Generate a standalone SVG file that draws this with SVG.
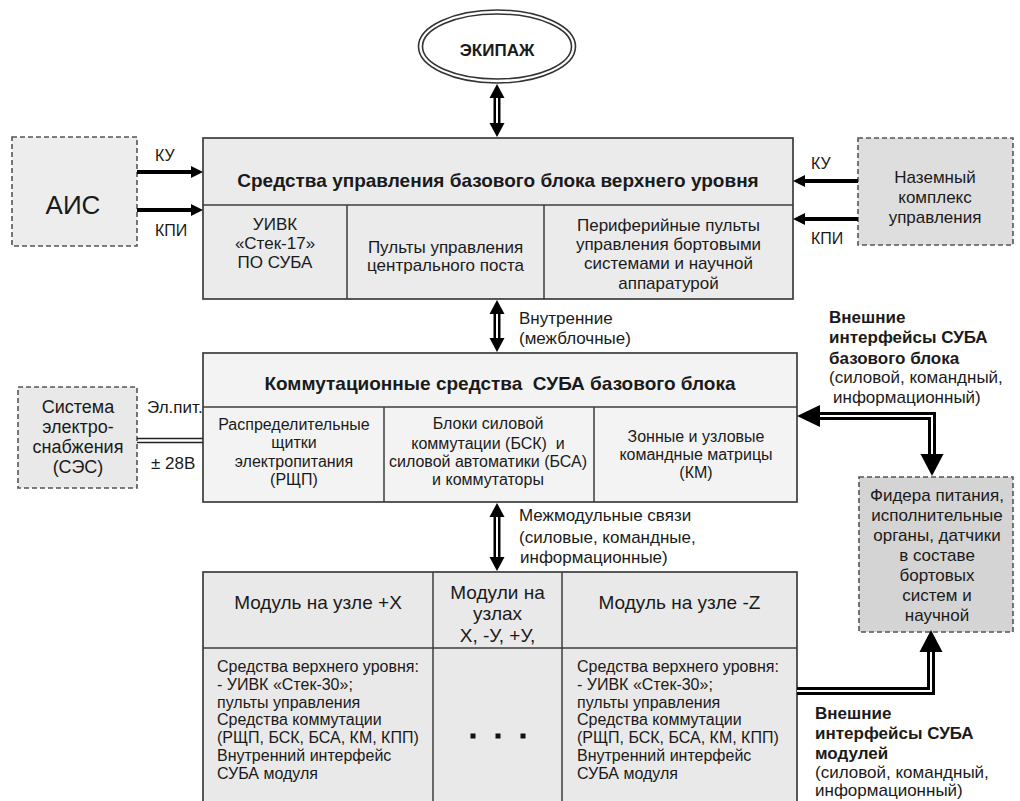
<svg xmlns="http://www.w3.org/2000/svg" width="1020" height="801" viewBox="0 0 1020 801">
  <style>
    text { font-family: "Liberation Sans", Arial, sans-serif; fill: #1a1a1a; }
    .t16 { font-size: 16px; }
    .t17 { font-size: 17px; }
    .t18 { font-size: 18px; }
    .t19 { font-size: 19px; }
    .b { font-weight: bold; }
    .mid { text-anchor: middle; }
    .box { stroke: #3c3c3c; stroke-width: 1.7; }
    .dash { stroke: #555; stroke-width: 1.6; stroke-dasharray: 5 3; }
    .sep { stroke: #3c3c3c; stroke-width: 1.5; fill: none; }
    .head { fill: #000; }
    .thin-shaft { stroke: #000; stroke-width: 7; fill: none; }
    .thick-shaft { stroke: #000; stroke-width: 8; fill: none; stroke-linejoin: miter; }
    .core { stroke: #fff; stroke-width: 2; fill: none; stroke-linejoin: miter; }
    .solid { stroke: #000; stroke-width: 4; fill: none; }
    .rail { stroke: #222; stroke-width: 1.6; fill: none; }
  </style>

  <rect width="1020" height="801" fill="#ffffff"/>

  <!-- Crew -->
  <g id="crew">
    <ellipse cx="497" cy="46.5" rx="78.5" ry="36.5" fill="#fff" stroke="#333" stroke-width="1.6"/>
    <ellipse cx="497" cy="46.5" rx="74.5" ry="32.5" fill="none" stroke="#333" stroke-width="1.6"/>
    <text class="t17 b mid" x="497" y="56">ЭКИПАЖ</text>
  </g>

  <!-- Upper level control of the base block -->
  <g id="upper-level">
    <rect class="box" x="203" y="138" width="590" height="161" fill="#ebebeb"/>
    <line class="sep" x1="203" y1="205" x2="793" y2="205"/>
    <line class="sep" x1="347" y1="205" x2="347" y2="299"/>
    <line class="sep" x1="544" y1="205" x2="544" y2="299"/>
    <text class="t19 b mid" x="498" y="187">Средства управления базового блока верхнего уровня</text>
    <text class="t17 mid" x="275" y="230">УИВК</text>
    <text class="t17 mid" x="275" y="249">«Стек-17»</text>
    <text class="t17 mid" x="275" y="268">ПО СУБА</text>
    <text class="t17 mid" x="445.5" y="253">Пульты управления</text>
    <text class="t17 mid" x="445.5" y="271">центрального поста</text>
    <text class="t17 mid" x="668.5" y="231">Периферийные пульты</text>
    <text class="t17 mid" x="668.5" y="250">управления бортовыми</text>
    <text class="t17 mid" x="668.5" y="269">системами и научной</text>
    <text class="t17 mid" x="668.5" y="289">аппаратурой</text>
  </g>

  <!-- AIS -->
  <g id="ais">
    <rect class="dash" x="12" y="137" width="125" height="109" fill="#ededed"/>
    <text class="mid" x="73" y="214" font-size="26">АИС</text>
  </g>

  <!-- Ground control complex -->
  <g id="ground">
    <rect class="dash" x="858" y="138" width="155" height="107" fill="#dedede"/>
    <text class="t17 mid" x="935" y="183">Наземный</text>
    <text class="t17 mid" x="935" y="203">комплекс</text>
    <text class="t17 mid" x="935" y="223">управления</text>
  </g>

  <!-- Switching facilities of the base block -->
  <g id="switching">
    <rect class="box" x="203" y="353" width="594" height="149" fill="#f3f3f3"/>
    <line class="sep" x1="203" y1="407" x2="797" y2="407"/>
    <line class="sep" x1="384" y1="407" x2="384" y2="502"/>
    <line class="sep" x1="594" y1="407" x2="594" y2="502"/>
    <text class="t19 b mid" x="500" y="390" xml:space="preserve">Коммутационные средства  СУБА базового блока</text>
    <text class="t16 mid" x="294" y="430">Распределительные</text>
    <text class="t16 mid" x="294" y="448">щитки</text>
    <text class="t16 mid" x="294" y="467">электропитания</text>
    <text class="t16 mid" x="294" y="485">(РЩП)</text>
    <text class="t16 mid" x="488" y="429">Блоки силовой</text>
    <text class="t16 mid" x="488" y="449" xml:space="preserve">коммутации (БСК)  и</text>
    <text class="t16 mid" x="488" y="467">силовой автоматики (БСА)</text>
    <text class="t16 mid" x="488" y="485">и коммутаторы</text>
    <text class="t16 mid" x="696" y="442">Зонные и узловые</text>
    <text class="t16 mid" x="696" y="460">командные матрицы</text>
    <text class="t16 mid" x="696" y="478">(КМ)</text>
  </g>

  <!-- Power supply system -->
  <g id="power">
    <rect class="dash" x="18" y="387" width="119" height="101" fill="#e9e9e9"/>
    <text class="t18 mid" x="78" y="413">Система</text>
    <text class="t18 mid" x="78" y="433">электро-</text>
    <text class="t18 mid" x="78" y="453">снабжения</text>
    <text class="t18 mid" x="78" y="473">(СЭС)</text>
  </g>

  <!-- Feeders, actuators, sensors -->
  <g id="feeders">
    <rect class="dash" x="859" y="477" width="154" height="155" fill="#d4d4d4"/>
    <text class="t17 mid" x="937" y="501">Фидера питания,</text>
    <text class="t17 mid" x="937" y="521">исполнительные</text>
    <text class="t17 mid" x="937" y="541">органы, датчики</text>
    <text class="t17 mid" x="937" y="561">в составе</text>
    <text class="t17 mid" x="937" y="581">бортовых</text>
    <text class="t17 mid" x="937" y="601">систем и</text>
    <text class="t17 mid" x="937" y="621">научной</text>
  </g>

  <!-- Modules -->
  <g id="modules">
    <rect class="box" x="203" y="572" width="594" height="240" fill="#e9e9e9"/>
    <line class="sep" x1="203" y1="648" x2="797" y2="648"/>
    <line class="sep" x1="433" y1="572" x2="433" y2="801"/>
    <line class="sep" x1="562" y1="572" x2="562" y2="801"/>
    <text class="t19 mid" x="318" y="609">Модуль на узле +X</text>
    <text class="t19 mid" x="497.5" y="599">Модули на</text>
    <text class="t19 mid" x="497.5" y="620">узлах</text>
    <text class="t19 mid" x="497.5" y="642">Х, -У, +У,</text>
    <text class="t19 mid" x="679.5" y="609">Модуль на узле -Z</text>
    <text class="t16" x="217" y="672">Средства верхнего уровня:</text>
    <text class="t16" x="217" y="690">- УИВК «Стек-30»;</text>
    <text class="t16" x="217" y="708">пульты управления</text>
    <text class="t16" x="217" y="725">Средства коммутации</text>
    <text class="t16" x="217" y="743">(РЩП, БСК, БСА, КМ, КПП)</text>
    <text class="t16" x="217" y="761">Внутренний интерфейс</text>
    <text class="t16" x="217" y="779">СУБА модуля</text>
    <rect x="470.5" y="733.5" width="5" height="5" fill="#111"/>
    <rect x="495.5" y="733.5" width="5" height="5" fill="#111"/>
    <rect x="520.5" y="733.5" width="5" height="5" fill="#111"/>
    <text class="t16" x="577" y="672">Средства верхнего уровня:</text>
    <text class="t16" x="577" y="690">- УИВК «Стек-30»;</text>
    <text class="t16" x="577" y="708">пульты управления</text>
    <text class="t16" x="577" y="725">Средства коммутации</text>
    <text class="t16" x="577" y="743">(РЩП, БСК, БСА, КМ, КПП)</text>
    <text class="t16" x="577" y="761">Внутренний интерфейс</text>
    <text class="t16" x="577" y="779">СУБА модуля</text>
  </g>

  <!-- Connectors -->
  <g id="connectors">
    <!-- crew <-> upper level -->
    <line class="thin-shaft" x1="497" y1="97" x2="497" y2="124"/>
    <line class="core" x1="497" y1="97" x2="497" y2="124"/>
    <polygon class="head" points="497,84 504.5,98 489.5,98"/>
    <polygon class="head" points="497,137 504.5,123 489.5,123"/>

    <!-- internal (inter-block) -->
    <line class="thin-shaft" x1="497" y1="313" x2="497" y2="339"/>
    <line class="core" x1="497" y1="313" x2="497" y2="339"/>
    <polygon class="head" points="497,300 504.5,314 489.5,314"/>
    <polygon class="head" points="497,352 504.5,338 489.5,338"/>

    <!-- inter-module links -->
    <line class="thin-shaft" x1="497" y1="516" x2="497" y2="558"/>
    <line class="core" x1="497" y1="516" x2="497" y2="558"/>
    <polygon class="head" points="497,503 504.5,517 489.5,517"/>
    <polygon class="head" points="497,571 504.5,557 489.5,557"/>

    <!-- AIS -> upper level -->
    <line class="solid" x1="137" y1="172" x2="193" y2="172"/>
    <polygon class="head" points="203,172 191,166 191,178"/>
    <line class="solid" x1="137" y1="210" x2="193" y2="210"/>
    <polygon class="head" points="203,210 191,204 191,216"/>
    <text class="t16" x="155" y="161">КУ</text>
    <text class="t16" x="155" y="236">КПИ</text>

    <!-- ground complex -> upper level -->
    <line class="solid" x1="858" y1="181" x2="803" y2="181"/>
    <polygon class="head" points="793,181 805,175 805,187"/>
    <line class="solid" x1="858" y1="219" x2="803" y2="219"/>
    <polygon class="head" points="793,219 805,213 805,225"/>
    <text class="t16" x="811" y="169">КУ</text>
    <text class="t16" x="811" y="244">КПИ</text>

    <!-- power supply double rail -->
    <line class="rail" x1="137" y1="438.5" x2="203" y2="438.5"/>
    <line class="rail" x1="137" y1="442.5" x2="203" y2="442.5"/>
    <text class="t17" x="147" y="413">Эл.пит.</text>
    <text class="t17" x="151" y="469">± 28В</text>

    <!-- external interfaces of the base block -->
    <path class="thick-shaft" d="M817,416 H932 V455"/>
    <path class="core" d="M817,416 H932 V455"/>
    <polygon class="head" points="797,416 820,405 820,427"/>
    <polygon class="head" points="932,476 920.5,454 943.5,454"/>

    <!-- external interfaces of the modules -->
    <path class="thick-shaft" d="M797,691 H931 V651"/>
    <path class="core" d="M797,691 H931 V651"/>
    <polygon class="head" points="931,630 919.5,652 942.5,652"/>

    <!-- connector labels -->
    <text class="t17" x="519" y="324">Внутренние</text>
    <text class="t17" x="519" y="344">(межблочные)</text>
    <text class="t17" x="519" y="521">Межмодульные связи</text>
    <text class="t17" x="519" y="543">(силовые, командные,</text>
    <text class="t17" x="520" y="563">информационные)</text>

    <text class="t17 b" x="829" y="323">Внешние</text>
    <text class="t17 b" x="829" y="343">интерфейсы СУБА</text>
    <text class="t17 b" x="829" y="364">базового блока</text>
    <text class="t17" x="829" y="383">(силовой, командный,</text>
    <text class="t17" x="833" y="403">информационный)</text>

    <text class="t17 b" x="815" y="719">Внешние</text>
    <text class="t17 b" x="815" y="739">интерфейсы СУБА</text>
    <text class="t17 b" x="815" y="759">модулей</text>
    <text class="t17" x="815" y="778">(силовой, командный,</text>
    <text class="t17" x="815" y="796">информационный)</text>
  </g>
</svg>
